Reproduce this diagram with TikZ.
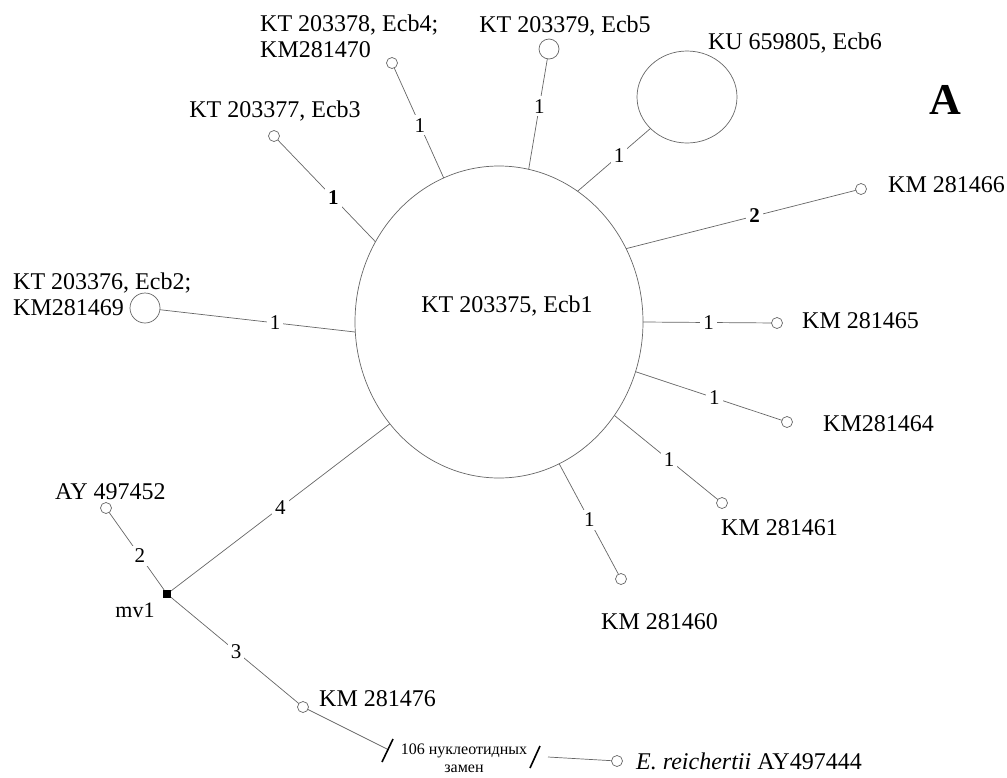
\documentclass[tikz,border=0pt]{standalone}
\usepackage{fontspec}
\setmainfont{Liberation Serif}
\usetikzlibrary{shapes.geometric}
\begin{document}
\begin{tikzpicture}[x=1pt,y=-1pt,
  edge/.style={draw=black!60, line width=0.7pt},
  hap/.style={circle, draw=black!60, line width=0.7pt, inner sep=0pt, outer sep=0pt, fill=white},
  small/.style={hap, minimum size=11pt},
  txt/.style={font=\fontsize{24}{26}\selectfont, inner sep=0pt},
  lbl/.style={font=\fontsize{21}{23}\selectfont, fill=white, inner sep=3pt},
  blbl/.style={lbl, font=\fontsize{21}{23}\selectfont\bfseries},
  slash/.style={draw=black, line width=1.6pt}]
\useasboundingbox (0,0) rectangle (1007,777);

% haplotypes
\node[ellipse, draw=black!60, line width=0.7pt, minimum width=288pt, minimum height=312pt, inner sep=0pt, outer sep=0pt] (ecb1) at (499,322) {};
\node[txt] (ecb1t) at (507,306) {KT 203375, Ecb1};
\node[ellipse, draw=black!60, line width=0.7pt, minimum width=100pt, minimum height=92pt, inner sep=0pt, outer sep=0pt] (ecb6) at (687,97) {};
\node[hap, minimum size=30pt] (ecb2) at (145,308) {};
\node[hap, minimum size=20pt] (ecb5) at (549,49) {};
\node[small] (ecb4) at (392,63) {};
\node[small] (ecb3) at (274,136) {};
\node[small] (k466) at (861,189) {};
\node[small] (k465) at (777,323) {};
\node[small] (k464) at (787,422) {};
\node[small] (k461) at (722,503) {};
\node[small] (k460) at (621,579) {};
\node[small] (ay452) at (106,508) {};
\node[small] (k476) at (303,707) {};
\node[small] (erei) at (617,761) {};
\node[rectangle, fill=black, minimum size=8pt, inner sep=0pt, outer sep=0pt] (mv1) at (167,594) {};

% texts
\node[txt] (t3) at (275,111) {KT 203377, Ecb3};
\node[txt, anchor=west, align=left] (t4) at (260,36) {KT 203378, Ecb4;\\KM281470};
\node[txt] (t5) at (565,26) {KT 203379, Ecb5};
\node[txt] (t6) at (795,43) {KU 659805, Ecb6};
\node[font=\fontsize{44}{44}\selectfont\bfseries, inner sep=0pt] (lettA) at (945,100) {A};
\node[txt, anchor=west] (t466) at (888,185) {KM 281466};
\node[txt, anchor=west, align=left] (t2) at (13,294) {KT 203376, Ecb2;\\KM281469};
\node[txt, anchor=west] (t465) at (802,321) {KM 281465};
\node[txt, anchor=west] (t464) at (823,424) {KM281464};
\node[txt, anchor=west] (t461) at (721,528) {KM 281461};
\node[txt, anchor=west] (t460) at (601,622) {KM 281460};
\node[txt, anchor=west] (tay) at (55,492) {AY 497452};
\node[txt, font=\fontsize{22}{24}\selectfont] (tmv) at (135,610) {mv1};
\node[txt, anchor=west] (t476) at (319,699) {KM 281476};
\node[font=\fontsize{16}{18}\selectfont, align=center, inner sep=0pt] (t106) at (464,758) {106 нуклеотидных\\замен};
\node[txt, anchor=west] (terei) at (636,761) {\textit{E. reichertii} AY497444};

% connectors
\draw[edge] (ecb1.147.9) -- node[blbl, pos=.43] (l3) {1} (ecb3);
\draw[edge] (ecb1.111) -- node[lbl, pos=.48] (l4) {1} (ecb4);
\draw[edge] (ecb1.79.8) -- node[lbl, pos=.57] (l5) {1} (ecb5);
\draw[edge] (ecb1.59) -- node[lbl, pos=.57] (l6) {1} (ecb6);
\draw[edge] (ecb1.30.6) -- node[blbl, pos=.56] (l466) {2} (k466);
\draw[edge] (ecb1.0) -- node[lbl, pos=.51] (l465) {1} (k465);
\draw[edge] (ecb1.-20.9) -- node[lbl, pos=.54] (l464) {1} (k464);
\draw[edge] (ecb1.-39.3) -- node[lbl, pos=.53] (l461) {1} (k461);
\draw[edge] (ecb1.-67) -- node[lbl, pos=.51] (l460) {1} (k460);
\draw[edge] (ecb1.184.4) -- node[lbl, pos=.41] (l2) {1} (ecb2);
\draw[edge] (ecb1.223.7) -- node[lbl, pos=.5] (l4m) {4} (mv1);
\draw[edge] (mv1) -- node[lbl, pos=.44] (l2m) {2} (ay452);
\draw[edge] (mv1) -- node[lbl, pos=.51] (l3m) {3} (k476);

% broken long branch
\coordinate (s1) at (387,749);
\coordinate (s2) at (548,757);
\draw[edge] (k476) -- (s1);
\draw[edge] (s2) -- (erei);
\coordinate (s1a) at (382,762);
\coordinate (s1b) at (393,739);
\coordinate (s2a) at (530,768);
\coordinate (s2b) at (540,746);
\draw[slash] (s1a) -- (s1b);
\draw[slash] (s2a) -- (s2b);
\end{tikzpicture}
\end{document}
